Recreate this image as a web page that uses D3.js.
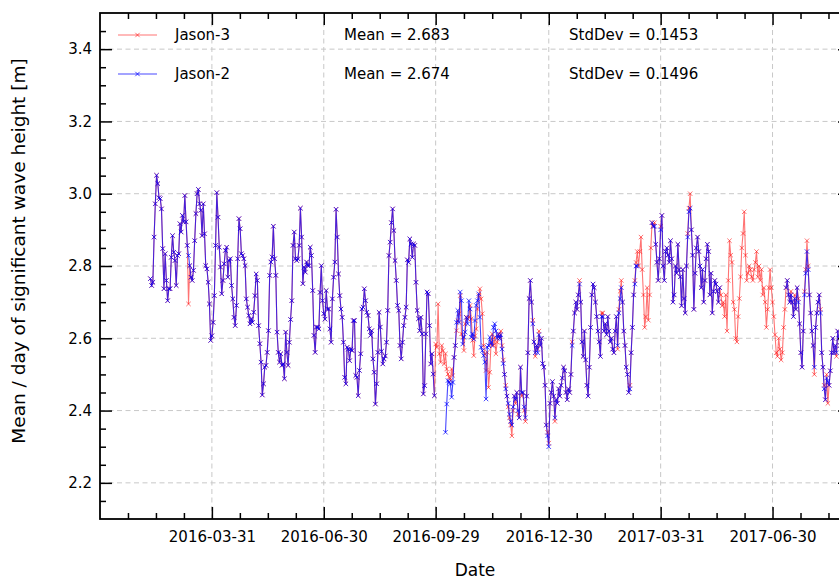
<!DOCTYPE html>
<html lang="en">
<head>
<meta charset="UTF-8">
<script src="https://cdnjs.cloudflare.com/ajax/libs/d3/7.8.5/d3.min.js"></script>
<title>Jason-3 / Jason-2 SWH</title>
<style>
  body { margin: 0; background: #fff; }
  text { font-family: "DejaVu Sans", sans-serif; fill: #000; }
</style>
</head>
<body>
<div id="canvas"></div>
<script>
// daily mean significant wave height [m], one value per day from the start date
const jason3Start = "2016-02-10"
const jason3 = [
  2.765, 2.746, 2.755, 2.880, 2.972, 3.051, 3.028, 2.989, 2.986, 2.958,
  2.848, 2.737, 2.834, 2.760, 2.704, 2.737, 2.737, 2.824, 2.884, 2.838,
  2.815, 2.746, 2.829, 2.834, 2.917, 2.894, 2.940, 2.922, 2.995, 2.922,
  2.857, 2.695, 2.801, 2.769, 2.760, 2.788, 2.870, 2.945, 3.000, 3.012,
  2.972, 2.954, 2.884, 2.972, 2.889, 2.801, 2.792, 2.755, 2.695, 2.594,
  2.607, 2.644, 2.718, 2.857, 3.003, 2.935, 2.852, 2.797, 2.723, 2.760,
  2.806, 2.843, 2.852, 2.769, 2.815, 2.820, 2.746, 2.709, 2.658, 2.635,
  2.691, 2.820, 2.931, 2.903, 2.834, 2.829, 2.820, 2.801, 2.709, 2.686,
  2.663, 2.640, 2.653, 2.644, 2.672, 2.718, 2.778,
  2.760, 2.635, 2.585, 2.534, 2.443, 2.474, 2.520, 2.525, 2.561, 2.621,
  2.774, 2.811, 2.825, 2.910, 2.820, 2.774, 2.617, 2.561, 2.534, 2.557,
  2.525, 2.529, 2.488, 2.617, 2.561, 2.525, 2.589, 2.652, 2.704, 2.857,
  2.894, 2.820, 2.815, 2.820, 2.857, 2.960, 2.880, 2.751, 2.797, 2.783,
  2.811, 2.801, 2.801, 2.852, 2.829, 2.732, 2.608, 2.561, 2.631, 2.631,
  2.626, 2.727, 2.801, 2.704, 2.668, 2.653, 2.732, 2.681, 2.681, 2.626,
  2.589, 2.709, 2.769, 2.811, 2.957, 2.880, 2.778, 2.718, 2.681, 2.658,
  2.589, 2.492, 2.474, 2.575, 2.570, 2.538, 2.570, 2.566, 2.649, 2.649,
  2.497, 2.492, 2.441, 2.511, 2.557, 2.681, 2.686, 2.737, 2.704, 2.672,
  2.663, 2.626, 2.608, 2.621, 2.543, 2.506,
  2.418, 2.474, 2.561, 2.672, 2.631, 2.564, 2.529, 2.543, 2.551, 2.589,
  2.677, 2.829, 2.866, 2.920, 2.958, 2.898, 2.815, 2.760, 2.691, 2.677,
  2.580, 2.543, 2.589, 2.635, 2.658, 2.686, 2.817, 2.810, 2.875, 2.861,
  2.824, 2.861, 2.857, 2.755, 2.677, 2.654, 2.621, 2.658, 2.612, 2.446,
  2.469, 2.612, 2.728, 2.723, 2.635, 2.529, 2.557, 2.501, 2.441,
  2.584, 2.575, 2.695, 2.557, 2.534, 2.580, 2.566, 2.529, 2.557, 2.515,
  2.501, 2.492, 2.483, 2.515, 2.497, 2.547, 2.580, 2.621, 2.649, 2.668,
  2.718, 2.612, 2.603, 2.566, 2.640, 2.658, 2.654, 2.658, 2.691, 2.654,
  2.594, 2.552, 2.607, 2.626, 2.681, 2.718, 2.737, 2.709, 2.668, 2.580,
  2.557, 2.511, 2.561, 2.464, 2.506, 2.584, 2.612, 2.580, 2.603, 2.557,
  2.589, 2.612,
  2.60, 2.62, 2.58, 2.54, 2.50, 2.47, 2.44, 2.41, 2.38, 2.36,
  2.33, 2.40, 2.44, 2.42, 2.45, 2.39, 2.38, 2.52, 2.44, 2.45,
  2.40, 2.37, 2.44, 2.56, 2.71, 2.76, 2.70, 2.65, 2.59, 2.55,
  2.58, 2.57, 2.62, 2.58, 2.60, 2.53, 2.52, 2.47, 2.36, 2.34,
  2.31, 2.42, 2.45, 2.48, 2.44, 2.37, 2.43, 2.42, 2.46, 2.44,
  2.47, 2.49, 2.52, 2.51, 2.45, 2.43, 2.46, 2.45, 2.50, 2.59,
  2.62, 2.67, 2.70, 2.68, 2.72, 2.76, 2.70, 2.59, 2.55, 2.62,
  2.54, 2.47, 2.44, 2.52, 2.63, 2.72, 2.75, 2.74, 2.70, 2.66,
  2.62, 2.59, 2.55, 2.67, 2.67, 2.62, 2.64, 2.61, 2.66, 2.62,
  2.59, 2.60, 2.57, 2.56, 2.62, 2.66, 2.57, 2.68, 2.73, 2.76,
  2.70, 2.62, 2.58, 2.52, 2.50, 2.45, 2.47, 2.56, 2.63, 2.72,
  2.76, 2.81, 2.84,
  2.80, 2.84, 2.88, 2.79, 2.72, 2.63, 2.66, 2.74, 2.65, 2.72,
  2.85,
  2.92, 2.91, 2.92, 2.86, 2.81, 2.76, 2.82, 2.91, 2.94, 2.80,
  2.76, 2.84, 2.85, 2.83, 2.81, 2.87, 2.82, 2.70, 2.72, 2.80,
  2.78, 2.86, 2.79, 2.77, 2.69, 2.79, 2.71, 2.67, 2.80, 2.89,
  2.96, 3.00, 2.90, 2.83, 2.68, 2.78, 2.85, 2.88, 2.84, 2.80,
  2.74, 2.79, 2.70, 2.76, 2.82, 2.86, 2.84, 2.72, 2.78, 2.67,
  2.73, 2.76, 2.75, 2.73, 2.70, 2.74,
  2.72, 2.69, 2.70, 2.66, 2.72, 2.62, 2.76, 2.87, 2.83, 2.81,
  2.70, 2.68, 2.60, 2.59, 2.66, 2.71, 2.77, 2.85, 2.89, 2.95,
  2.83, 2.76, 2.78, 2.80, 2.79, 2.77, 2.76, 2.79, 2.81, 2.84,
  2.77, 2.80, 2.76, 2.79, 2.72, 2.74, 2.70, 2.63, 2.68, 2.74,
  2.79, 2.74, 2.70, 2.66, 2.61, 2.56, 2.55, 2.60, 2.57, 2.54,
  2.56, 2.63, 2.68,
  2.74, 2.76, 2.72, 2.70, 2.73, 2.70, 2.66, 2.72, 2.68, 2.74,
  2.71, 2.64, 2.56, 2.52, 2.62, 2.73, 2.79, 2.87, 2.80, 2.72,
  2.67, 2.62, 2.58, 2.50, 2.63, 2.67, 2.70, 2.72, 2.68, 2.56,
  2.52, 2.47, 2.43, 2.50, 2.42, 2.47, 2.51, 2.56, 2.60, 2.56,
  2.58, 2.55, 2.62, 2.60, 2.58, 2.61, 2.57, 2.60, 2.62
]

// Jason-2 has gaps, so it is kept as dated pieces
const jason2Starts = ["2016-02-10", "2016-10-07", "2017-03-24", "2017-07-11"]
const jason2A = [
  2.765, 2.746, 2.755, 2.880, 2.972, 3.051, 3.028, 2.989, 2.986, 2.958,
  2.848, 2.737, 2.834, 2.760, 2.704, 2.737, 2.737, 2.824, 2.884, 2.838,
  2.815, 2.746, 2.829, 2.834, 2.917, 2.894, 2.940, 2.922, 2.995, 2.922,
  2.857, 2.829, 2.801, 2.769, 2.760, 2.788, 2.870, 2.945, 3.000, 3.012,
  2.972, 2.954, 2.884, 2.972, 2.889, 2.801, 2.792, 2.755, 2.695, 2.594,
  2.607, 2.644, 2.718, 2.857, 3.003, 2.935, 2.852, 2.797, 2.723, 2.760,
  2.806, 2.843, 2.852, 2.769, 2.815, 2.820, 2.746, 2.709, 2.658, 2.635,
  2.691, 2.820, 2.931, 2.903, 2.834, 2.829, 2.820, 2.801, 2.709, 2.686,
  2.663, 2.640, 2.653, 2.644, 2.672, 2.718, 2.778,
  2.760, 2.635, 2.585, 2.534, 2.443, 2.474, 2.520, 2.525, 2.561, 2.621,
  2.774, 2.811, 2.825, 2.910, 2.820, 2.774, 2.617, 2.561, 2.534, 2.557,
  2.525, 2.529, 2.488, 2.617, 2.561, 2.525, 2.589, 2.652, 2.704, 2.857,
  2.894, 2.820, 2.815, 2.820, 2.857, 2.960, 2.880, 2.751, 2.797, 2.783,
  2.811, 2.801, 2.801, 2.852, 2.829, 2.732, 2.608, 2.561, 2.631, 2.631,
  2.626, 2.727, 2.801, 2.704, 2.668, 2.653, 2.732, 2.681, 2.681, 2.626,
  2.589, 2.709, 2.769, 2.811, 2.957, 2.880, 2.778, 2.718, 2.681, 2.658,
  2.589, 2.492, 2.474, 2.575, 2.570, 2.538, 2.570, 2.566, 2.649, 2.649,
  2.497, 2.492, 2.441, 2.511, 2.557, 2.681, 2.686, 2.737, 2.704, 2.672,
  2.663, 2.626, 2.608, 2.621, 2.543, 2.506,
  2.418, 2.474, 2.561, 2.672, 2.631, 2.564, 2.529, 2.543, 2.551, 2.589,
  2.677, 2.829, 2.866, 2.920, 2.958, 2.898, 2.815, 2.760, 2.691, 2.677,
  2.580, 2.543, 2.589, 2.635, 2.658, 2.686, 2.817, 2.810, 2.875, 2.861,
  2.824, 2.861, 2.857, 2.755, 2.677, 2.654, 2.621, 2.658, 2.612, 2.446,
  2.469, 2.612, 2.728, 2.723, 2.635, 2.529, 2.557, 2.501, 2.441
]
const jason2B = [
  2.340, 2.418, 2.483, 2.478, 2.474, 2.437, 2.478, 2.547, 2.580, 2.644,
  2.677, 2.644, 2.728, 2.704, 2.584, 2.603, 2.617, 2.658, 2.640, 2.704,
  2.681, 2.603, 2.612, 2.598, 2.649, 2.691, 2.704, 2.723, 2.658, 2.575,
  2.566, 2.552, 2.534, 2.432, 2.575, 2.580, 2.603, 2.589, 2.580, 2.630,
  2.640, 2.62, 2.60, 2.61,
  2.60, 2.61, 2.57, 2.53, 2.50, 2.46, 2.44, 2.42, 2.39, 2.37,
  2.36, 2.41, 2.44, 2.43, 2.45, 2.40, 2.38, 2.52, 2.45, 2.45,
  2.41, 2.38, 2.44, 2.56, 2.71, 2.76, 2.70, 2.64, 2.59, 2.56,
  2.58, 2.56, 2.61, 2.58, 2.60, 2.53, 2.52, 2.47, 2.36, 2.33,
  2.30, 2.42, 2.45, 2.48, 2.44, 2.38, 2.43, 2.42, 2.46, 2.44,
  2.47, 2.49, 2.52, 2.51, 2.45, 2.43, 2.46, 2.45, 2.50, 2.58,
  2.62, 2.67, 2.70, 2.68, 2.72, 2.75, 2.70, 2.59, 2.55, 2.62,
  2.54, 2.47, 2.44, 2.52, 2.63, 2.72, 2.75, 2.74, 2.70, 2.66,
  2.62, 2.59, 2.55, 2.66, 2.66, 2.62, 2.64, 2.61, 2.66, 2.62,
  2.59, 2.60, 2.57, 2.56, 2.62, 2.66, 2.58, 2.67, 2.71, 2.74,
  2.70, 2.62, 2.58, 2.52, 2.50, 2.45, 2.46, 2.56, 2.63, 2.72,
  2.75, 2.80, 2.80
]
const jason2C = [
  2.92, 2.91, 2.91, 2.86, 2.81, 2.76, 2.82, 2.90, 2.94, 2.80,
  2.76, 2.84, 2.85, 2.83, 2.81, 2.87, 2.82, 2.70, 2.72, 2.80,
  2.78, 2.86, 2.79, 2.77, 2.69, 2.79, 2.71, 2.67, 2.80, 2.88,
  2.95, 2.96, 2.90, 2.83, 2.68, 2.78, 2.85, 2.88, 2.84, 2.80,
  2.74, 2.79, 2.70, 2.76, 2.82, 2.86, 2.84, 2.72, 2.78, 2.67,
  2.73, 2.76, 2.75, 2.73, 2.70, 2.74
]
const jason2D = [
  2.74, 2.76, 2.72, 2.70, 2.72, 2.70, 2.66, 2.71, 2.68, 2.74,
  2.70, 2.64, 2.56, 2.52, 2.62, 2.72, 2.78, 2.84, 2.79, 2.72,
  2.67, 2.62, 2.58, 2.52, 2.63, 2.67, 2.70, 2.72, 2.67, 2.56,
  2.52, 2.46, 2.43, 2.49, 2.48, 2.47, 2.51, 2.56, 2.60, 2.56,
  2.58, 2.56, 2.62, 2.60, 2.58, 2.61, 2.57, 2.60, 2.62
]

const seriesNames = ["Jason-3", "Jason-2"]
const seriesColors = ["#ff0000", "#0000ff"]
const meanLabels = ["Mean = 2.683", "Mean = 2.674"]
const stdLabels = ["StdDev = 0.1453", "StdDev = 0.1496"]

const xMajorTicks = ["2015-12-31", "2016-03-31", "2016-06-30", "2016-09-29", "2016-12-30", "2017-03-31", "2017-06-30", "2017-09-29"]
const xDomain = ["2015-12-31", "2017-09-01"]
const yTicks = [2.2, 2.4, 2.6, 2.8, 3.0, 3.2, 3.4]
const yDomain = [2.1, 3.5]

const parse = d3.utcParse("%Y-%m-%d")
const fmt = d3.utcFormat("%Y-%m-%d")

const W = 839, H = 580
const plot = {left: 100, top: 13, right: 850, bottom: 519}

const svg = d3.select("#canvas").append("svg").attr("width", W).attr("height", H)

const x = d3.scaleUtc().domain(xDomain.map(parse)).range([plot.left, plot.right])
const y = d3.scaleLinear().domain(yDomain).range([plot.bottom, plot.top])

const majors = xMajorTicks.map(parse)
const xMinors = []
for (let i = 0; i < majors.length - 1; i++) {
  const a = +majors[i], b = +majors[i + 1]
  for (let k = 1; k < 4; k++) xMinors.push(new Date(a + (b - a) * k / 4))
}
const inX = d => d > x.domain()[0] && d < x.domain()[1]
const yMinors = d3.range(2.15, 3.5, 0.05).filter(v => !yTicks.some(t => Math.abs(t - v) < 1e-6))

// grid
const grid = svg.append("g").attr("stroke", "#c8c8c8").attr("stroke-width", 1).attr("stroke-dasharray", "5,3.5")
grid.selectAll(".gx").data(majors.filter(inX)).enter().append("line")
  .attr("x1", d => x(d)).attr("x2", d => x(d)).attr("y1", plot.top).attr("y2", plot.bottom)
grid.selectAll(".gy").data(yTicks).enter().append("line")
  .attr("x1", plot.left).attr("x2", plot.right).attr("y1", d => y(d)).attr("y2", d => y(d))

// series
svg.append("clipPath").attr("id", "clip").append("rect")
  .attr("x", plot.left).attr("y", plot.top).attr("width", plot.right - plot.left).attr("height", plot.bottom - plot.top)

const toPoints = (start, vals) => vals.map((v, i) => ({date: d3.utcDay.offset(parse(start), i), v: v}))
const pieces = [
  [toPoints(jason3Start, jason3)],
  [jason2A, jason2B, jason2C, jason2D].map((p, i) => toPoints(jason2Starts[i], p))
]
const opac = [0.55, 0.72]

const line = d3.line().x(d => x(d.date)).y(d => y(d.v))
const cross = "M-2.2,-2.2L2.2,2.2M-2.2,2.2L2.2,-2.2"

pieces.forEach((list, s) => {
  const g = svg.append("g").attr("clip-path", "url(#clip)")
  list.forEach(pts => {
    g.append("path").datum(pts).attr("fill", "none")
      .attr("stroke", seriesColors[s]).attr("stroke-opacity", opac[s]).attr("stroke-width", 1.1)
      .attr("d", line)
    g.selectAll(null).data(pts).enter().append("path")
      .attr("d", cross).attr("transform", d => `translate(${x(d.date)},${y(d.v)})`)
      .attr("fill", "none").attr("stroke", seriesColors[s]).attr("stroke-opacity", opac[s]).attr("stroke-width", 1)
  })
})

// axes, ticks pointing inward
const tickStyle = g => { g.select(".domain").remove(); g.selectAll("line").attr("stroke", "#000").attr("stroke-width", 1.5); g.selectAll("text").style("font-size", "15px") }

svg.append("g").attr("transform", `translate(0,${plot.bottom})`)
  .call(d3.axisBottom(x).tickValues(majors.filter(inX)).tickFormat(fmt).tickSizeInner(-12).tickSizeOuter(0).tickPadding(12))
  .call(tickStyle)
svg.append("g").attr("transform", `translate(0,${plot.bottom})`)
  .call(d3.axisBottom(x).tickValues(xMinors.filter(inX)).tickFormat("").tickSizeInner(-6).tickSizeOuter(0))
  .call(tickStyle)
svg.append("g").attr("transform", `translate(0,${plot.top})`)
  .call(d3.axisTop(x).tickValues(majors.filter(inX)).tickFormat("").tickSizeInner(-12).tickSizeOuter(0))
  .call(tickStyle)
svg.append("g").attr("transform", `translate(0,${plot.top})`)
  .call(d3.axisTop(x).tickValues(xMinors.filter(inX)).tickFormat("").tickSizeInner(-6).tickSizeOuter(0))
  .call(tickStyle)

svg.append("g").attr("transform", `translate(${plot.left},0)`)
  .call(d3.axisLeft(y).tickValues(yTicks).tickFormat(d3.format(".1f")).tickSizeInner(-12).tickSizeOuter(0).tickPadding(8))
  .call(tickStyle)
svg.append("g").attr("transform", `translate(${plot.left},0)`)
  .call(d3.axisLeft(y).tickValues(yMinors).tickFormat("").tickSizeInner(-6).tickSizeOuter(0))
  .call(tickStyle)
svg.append("g").attr("transform", `translate(${plot.right},0)`)
  .call(d3.axisRight(y).tickValues(yTicks).tickFormat("").tickSizeInner(-12).tickSizeOuter(0))
  .call(tickStyle)
svg.append("g").attr("transform", `translate(${plot.right},0)`)
  .call(d3.axisRight(y).tickValues(yMinors).tickFormat("").tickSizeInner(-6).tickSizeOuter(0))
  .call(tickStyle)

// frame
svg.append("rect").attr("x", plot.left).attr("y", plot.top)
  .attr("width", plot.right - plot.left).attr("height", plot.bottom - plot.top)
  .attr("fill", "none").attr("stroke", "#000").attr("stroke-width", 1.8)

// axis labels
svg.append("text").attr("x", (plot.left + plot.right) / 2).attr("y", 576)
  .attr("text-anchor", "middle").style("font-size", "17px").text("Date")
svg.append("text").attr("transform", "translate(25,251) rotate(-90)")
  .attr("text-anchor", "middle").style("font-size", "18.5px").text("Mean / day of significant wave height [m]")

// legend
const rowY = [35, 74]
seriesNames.forEach((name, i) => {
  const g = svg.append("g")
  g.append("line").attr("x1", 118).attr("x2", 157).attr("y1", rowY[i]).attr("y2", rowY[i])
    .attr("stroke", seriesColors[i]).attr("stroke-opacity", opac[i]).attr("stroke-width", 1.1)
  g.append("path").attr("d", cross).attr("transform", `translate(137.5,${rowY[i]})`)
    .attr("fill", "none").attr("stroke", seriesColors[i]).attr("stroke-opacity", opac[i])
  g.append("text").attr("x", 175).attr("y", rowY[i]).attr("dy", "0.36em").style("font-size", "15px").text(name)
  g.append("text").attr("x", 344).attr("y", rowY[i]).attr("dy", "0.36em").style("font-size", "15px").text(meanLabels[i])
  g.append("text").attr("x", 569).attr("y", rowY[i]).attr("dy", "0.36em").style("font-size", "15px").text(stdLabels[i])
})
</script>
</body>
</html>
